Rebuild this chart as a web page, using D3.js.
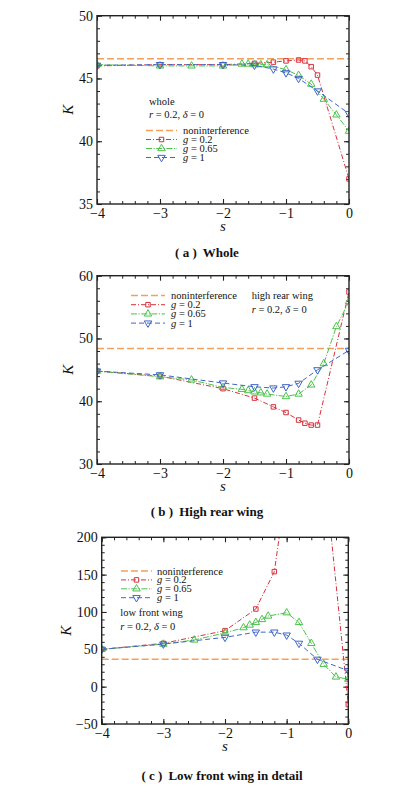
<!DOCTYPE html>
<html>
<head>
<meta charset="utf-8">
<script src="https://cdn.jsdelivr.net/npm/d3@7"></script>
<style>
  body { margin: 0; background: #fff; }
  svg text { font-family: "Liberation Serif", "DejaVu Serif", serif; fill: #111; }
</style>
</head>
<body>
<div id="chart"></div>
<script>
// s values where each series was computed
const sG02  = [-4, -3, -2, -1.5, -1.2, -1, -0.8, -0.7, -0.6, -0.5, 0];
const sG065 = [-4, -3, -2.5, -2, -1.7, -1.6, -1.5, -1.4, -1.3, -1, -0.8, -0.6, -0.4, -0.2, 0];
const sG1   = [-4, -3, -2, -1.5, -1.2, -1, -0.8, -0.5, 0];

// (a) whole
const wholeG02  = [46.0, 46.1, 46.1, 46.2, 46.3, 46.4, 46.47, 46.4, 45.94, 45.27, 37.0];
const wholeG065 = [46.1, 46.0, 46.0, 46.0, 46.15, 46.15, 46.1, 46.1, 46.1, 45.7, 45.25, 44.55, 43.35, 42.1, 40.8];
const wholeG1   = [46.05, 46.1, 46.1, 46.05, 45.75, 45.45, 45.0, 44.0, 42.2];
const wholeNon  = 46.57;

// (b) high rear wing
const rearG02  = [44.8, 44.0, 42.0, 40.5, 39.1, 38.2, 37.0, 36.5, 36.2, 36.2, 57.4];
const rearG065 = [44.8, 43.9, 43.4, 42.2, 41.9, 41.7, 41.5, 41.35, 41.15, 40.75, 41.15, 42.6, 46.0, 51.9, 55.9];
const rearG1   = [44.8, 44.2, 42.9, 42.3, 42.1, 42.3, 42.85, 45.0, 48.1];
const rearNon  = 48.4;

// (c) low front wing (g = 0.2 runs off the top between -1.2 and 0)
const frontG02  = [50, 58, 75, 104, 154, 270, 400, 500, 480, 382, -24];
const frontG065 = [50, 57, 62.5, 72, 79, 82.5, 86, 90, 94.6, 99, 86, 58, 30, 13, 10];
const frontG1   = [50, 57, 66, 73, 73, 69, 58, 36.6, 21.4];
const frontNon  = 36.7;

// axis ticks
const xTicks = [-4, -3, -2, -1, 0];
const yTicksA = [35, 40, 45, 50];
const yTicksB = [30, 40, 50, 60];
const yTicksC = [-50, 0, 50, 100, 150, 200];

const W = 397, H = 794;
const svg = d3.select("#chart").append("svg")
  .attr("width", W).attr("height", H);

const orange = "#f5a05a", red = "#d9313d", green = "#4cc24c", blue = "#3f66c6";

const styles = [
  {g: "0.2",  color: red,   dash: "5,2,1,2",       marker: "square"},
  {g: "0.65", color: green, dash: "6,1.5,1.2,1.5", marker: "up"},
  {g: "1",    color: blue,  dash: "5,3",           marker: "down"}
];

const panels = [
  {id: "a", left: 97, right: 349, top: 15.7, bottom: 204, yDomain: [35, 50], yTicks: yTicksA, yMinor: 1,
   series: [[sG02, wholeG02], [sG065, wholeG065], [sG1, wholeG1]], non: wholeNon,
   kx: 68, caption: ["( a )", "Whole"], capX: 207, capY: 257,
   legend: {x1: 146, x2: 177, tx: 183, rows: [130.5, 139.5, 148.5, 157.5]},
   notes: [{x: 149, y: 104.5, t: "whole"}, {x: 149, y: 117.5, t: "rd"}]},
  {id: "b", left: 97, right: 349, top: 275.7, bottom: 464, yDomain: [30, 60], yTicks: yTicksB, yMinor: 2,
   series: [[sG02, rearG02], [sG065, rearG065], [sG1, rearG1]], non: rearNon,
   kx: 68, caption: ["( b )", "High rear wing"], capX: 207, capY: 516,
   legend: {x1: 131, x2: 165, tx: 171, rows: [295.5, 304.7, 313.9, 323.1]},
   notes: [{x: 251.7, y: 299, t: "high rear wing"}, {x: 251.7, y: 312.5, t: "rd"}]},
  {id: "c", left: 101.7, right: 348.3, top: 537.3, bottom: 724, yDomain: [-50, 200], yTicks: yTicksC, yMinor: 10,
   series: [[sG02, frontG02], [sG065, frontG065], [sG1, frontG1]], non: frontNon,
   kx: 66, caption: ["( c )", "Low front wing in detail"], capX: 222, capY: 780,
   legend: {x1: 121, x2: 152, tx: 157, rows: [571, 579.9, 588.8, 597.7]},
   notes: [{x: 120.3, y: 616, t: "low front wing"}, {x: 120.3, y: 629.5, t: "rd"}]}
];

function markerPath(kind) {
  if (kind === "square") return d3.symbol(d3.symbolSquare, 20)();
  return d3.symbol(d3.symbolTriangle, 24)();
}

function addMarker(sel, kind, color, cx, cy) {
  sel.append("path")
    .attr("d", markerPath(kind))
    .attr("transform", `translate(${cx},${cy})` + (kind === "down" ? " rotate(180)" : ""))
    .attr("fill", "none")
    .attr("stroke", color)
    .attr("stroke-width", 1);
}

function rdText(sel, x, y) {
  const t = sel.append("text").attr("x", x).attr("y", y).attr("font-size", 10.5);
  t.append("tspan").attr("font-style", "italic").text("r");
  t.append("tspan").text(" = 0.2, ");
  t.append("tspan").attr("font-style", "italic").text("δ");
  t.append("tspan").text(" = 0");
}

function drawPanel(p) {
  const g = svg.append("g");
  const x = d3.scaleLinear().domain([-4, 0]).range([p.left, p.right]);
  const y = d3.scaleLinear().domain(p.yDomain).range([p.bottom, p.top]);

  g.append("clipPath").attr("id", "clip-" + p.id)
    .append("rect")
    .attr("x", p.left).attr("y", p.top)
    .attr("width", p.right - p.left).attr("height", p.bottom - p.top);

  const xMinor = d3.range(0, 21).map(i => -4 + i * 0.2);
  const yMinor = d3.range(p.yDomain[0], p.yDomain[1] + 1e-9, p.yMinor);

  // inward ticks on all four sides
  const axes = [
    [d3.axisBottom(x), `translate(0,${p.bottom})`, xMinor, xTicks, true],
    [d3.axisTop(x), `translate(0,${p.top})`, xMinor, xTicks, false],
    [d3.axisLeft(y), `translate(${p.left},0)`, yMinor, p.yTicks, true],
    [d3.axisRight(y), `translate(${p.right},0)`, yMinor, p.yTicks, false]
  ];
  axes.forEach(([ax, tr, minor, major, labels]) => {
    g.append("g").attr("transform", tr)
      .call(ax.tickValues(minor).tickSize(-3).tickFormat(""))
      .call(s => s.select(".domain").remove())
      .call(s => s.selectAll("line").attr("stroke", "#222").attr("stroke-width", 1));
    const axMaj = ax.copy ? ax : ax;
    const gm = g.append("g").attr("transform", tr)
      .call(ax.tickValues(major).tickSize(-5).tickPadding(labels ? 4 : 0)
        .tickFormat(labels ? d3.format("") : ""))
      .call(s => s.select(".domain").remove())
      .call(s => s.selectAll("line").attr("stroke", "#222").attr("stroke-width", 1.1));
    gm.selectAll("text")
      .attr("font-size", 14)
      .attr("font-family", "'Liberation Serif', serif")
      .attr("fill", "#111");
  });

  const plot = g.append("g").attr("clip-path", `url(#clip-${p.id})`);

  // noninterference reference
  plot.append("line")
    .attr("x1", x(-4)).attr("x2", x(0))
    .attr("y1", y(p.non)).attr("y2", y(p.non))
    .attr("stroke", orange).attr("stroke-width", 1.3)
    .attr("stroke-dasharray", "7,3");

  const line = d3.line().x(d => x(d[0])).y(d => y(d[1]));
  p.series.forEach(([sv, kv], i) => {
    const st = styles[i];
    const pts = sv.map((s, j) => [s, kv[j]]);
    plot.append("path").datum(pts)
      .attr("d", line)
      .attr("fill", "none")
      .attr("stroke", st.color)
      .attr("stroke-width", 1)
      .attr("stroke-dasharray", st.dash);
    pts.filter(d => d[1] <= p.yDomain[1] && d[1] >= p.yDomain[0])
      .forEach(d => addMarker(plot, st.marker, st.color, x(d[0]), y(d[1])));
  });

  // frame
  g.append("rect")
    .attr("x", p.left).attr("y", p.top)
    .attr("width", p.right - p.left).attr("height", p.bottom - p.top)
    .attr("fill", "none").attr("stroke", "#222").attr("stroke-width", 1.4);

  // axis titles
  g.append("text")
    .attr("transform", `translate(${p.kx},${(p.top + p.bottom) / 2}) rotate(-90)`)
    .attr("text-anchor", "middle")
    .attr("dy", "0.35em")
    .attr("font-size", 15).attr("font-style", "italic")
    .text("K");
  g.append("text")
    .attr("x", x(-2)).attr("y", p.bottom + 27)
    .attr("text-anchor", "middle")
    .attr("font-size", 15).attr("font-style", "italic")
    .text("s");

  // caption
  const cap = g.append("text")
    .attr("x", p.capX).attr("y", p.capY)
    .attr("text-anchor", "middle")
    .attr("font-size", 13).attr("font-weight", "bold");
  cap.append("tspan").text(p.caption[0]);
  cap.append("tspan").attr("dx", 6).text(p.caption[1]);

  // legend
  const L = p.legend;
  const leg = g.append("g");
  leg.append("line")
    .attr("x1", L.x1).attr("x2", L.x2).attr("y1", L.rows[0]).attr("y2", L.rows[0])
    .attr("stroke", orange).attr("stroke-width", 1.3).attr("stroke-dasharray", "7,3");
  leg.append("text").attr("x", L.tx).attr("y", L.rows[0] + 3.5)
    .attr("font-size", 10.5).text("noninterference");
  styles.forEach((st, i) => {
    const ry = L.rows[i + 1];
    leg.append("line")
      .attr("x1", L.x1).attr("x2", L.x2).attr("y1", ry).attr("y2", ry)
      .attr("stroke", st.color).attr("stroke-width", 1).attr("stroke-dasharray", st.dash);
    addMarker(leg, st.marker, st.color, (L.x1 + L.x2) / 2, ry);
    const t = leg.append("text").attr("x", L.tx).attr("y", ry + 3.5).attr("font-size", 10.5);
    t.append("tspan").attr("font-style", "italic").text("g");
    t.append("tspan").text(" = " + st.g);
  });

  p.notes.forEach(n => {
    if (n.t === "rd") rdText(g, n.x, n.y);
    else g.append("text").attr("x", n.x).attr("y", n.y).attr("font-size", 10.5).text(n.t);
  });
}

panels.forEach(drawPanel);
</script>
</body>
</html>
